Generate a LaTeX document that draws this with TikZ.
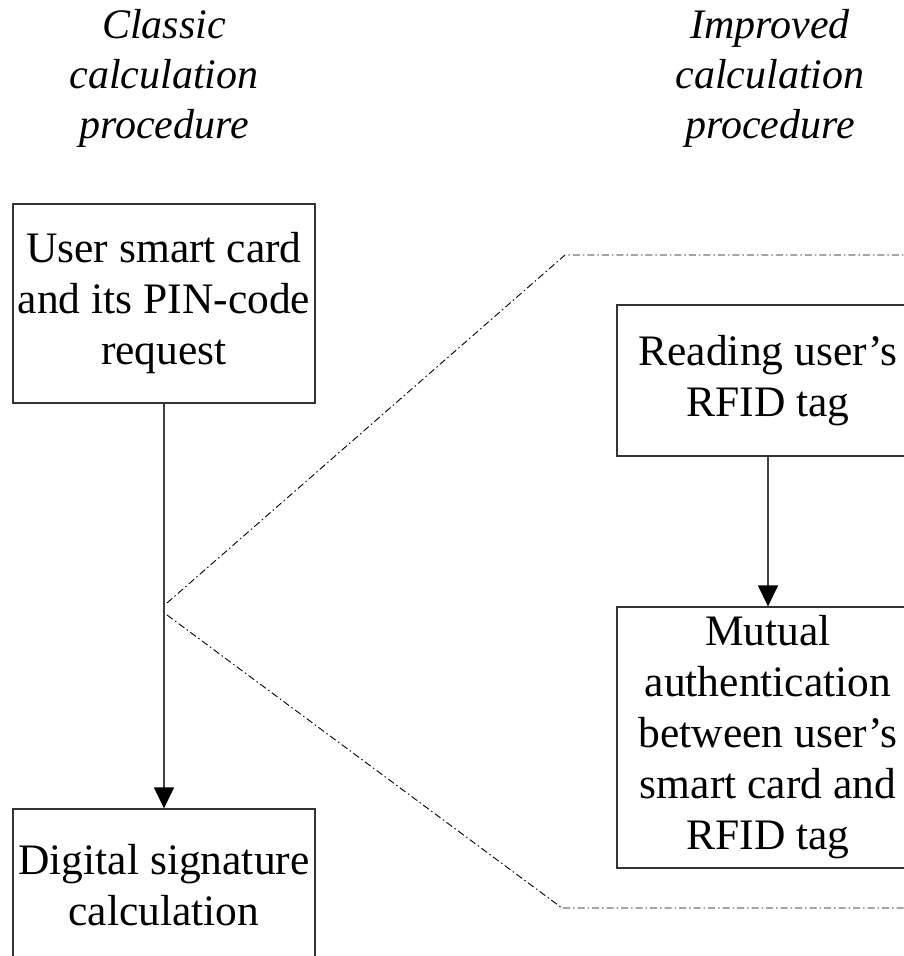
\documentclass[tikz,border=0pt]{standalone}
\usepackage{fontspec}
\setmainfont{Liberation Serif}
\usetikzlibrary{arrows.meta}
\begin{document}
\begin{tikzpicture}[x=1pt,y=-1pt,
  boxstyle/.style={draw=black!80, line width=1.2pt, minimum width=302pt, inner sep=0pt, align=center,
     font=\fontsize{43.5}{51}\selectfont},
  titlestyle/.style={align=center, inner sep=0pt, font=\fontsize{42}{50}\selectfont\itshape},
  flow/.style={draw=black!75, line width=1.2pt, -{Triangle[width=20pt,length=21pt,color=black,fill=black]}},
  zoomline/.style={draw=black, line width=0.9pt, dash pattern=on 7pt off 3pt on 1.5pt off 3pt}]
\clip (0,0) rectangle (904,956);
\fill[white] (0,0) rectangle (904,956);
\node[titlestyle] (t1) at (164,78) {Classic\\calculation\\procedure};
\node[titlestyle] (t2) at (770,78) {Improved\\calculation\\procedure};
\node[boxstyle, minimum height=199pt] (a) at (164,303.5) {User smart card\\and its PIN-code\\request};
\node[boxstyle, minimum height=153pt] (b) at (164,885.5) {Digital signature\\calculation};
\node[boxstyle, minimum height=151pt] (c) at (768,380.5) {\fontsize{43.5}{47}\selectfont Reading user’s\\RFID tag};
\node[boxstyle, minimum height=261pt] (d) at (768,737.5) {Mutual\\authentication\\between user’s\\smart card and\\RFID tag};
\draw[flow] (a.south) -- (b.north);
\draw[flow] (c.south) -- (d.north);
\coordinate (u0) at (167,603);
\coordinate (u1) at (565,255);
\coordinate (u2) at (920,255);
\coordinate (l0) at (167,615);
\coordinate (l1) at (562,908);
\coordinate (l2) at (920,908);
\draw[zoomline] (u0) -- (u1) -- (u2);
\draw[zoomline] (l0) -- (l1) -- (l2);
\end{tikzpicture}
\end{document}
